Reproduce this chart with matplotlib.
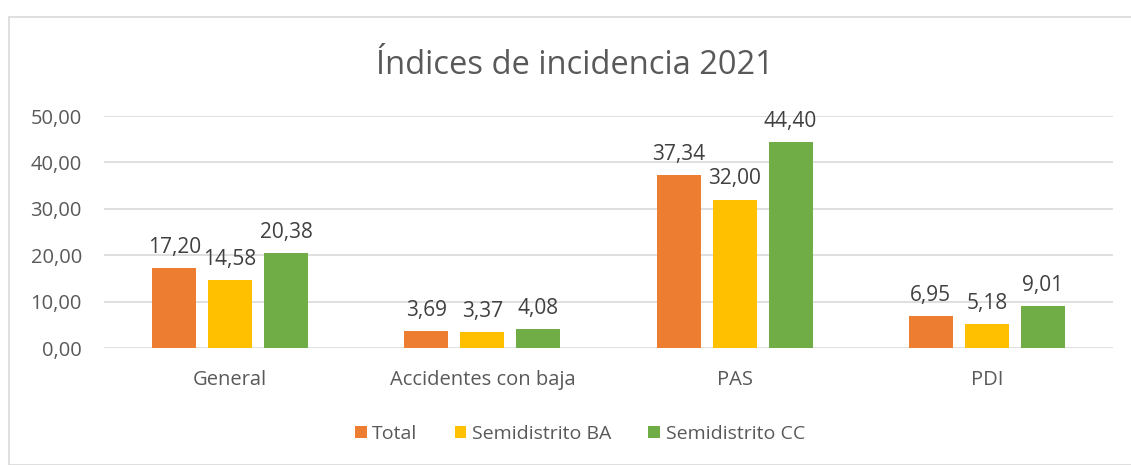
import matplotlib.pyplot as plt
from matplotlib.patches import Rectangle
import numpy as np

categories = ["General", "Accidentes con baja", "PAS", "PDI"]
series_names = ["Total", "Semidistrito BA", "Semidistrito CC"]
total = [17.20, 3.69, 37.34, 6.95]
semi_ba = [14.58, 3.37, 32.00, 5.18]
semi_cc = [20.38, 4.08, 44.40, 9.01]
colors = ["#ED7D31", "#FFC000", "#70AD47"]

plt.rcParams['font.family'] = ['Open Sans', 'DejaVu Sans']
gray = "#595959"

fig = plt.figure(figsize=(11.31, 4.65), dpi=100)
W, H = 1131, 465
fig.patches.append(Rectangle((9 / W, 0), 1.2, 1 - 17 / H, transform=fig.transFigure,
                             fill=False, edgecolor="#D9D9D9", linewidth=1.2))

ax = fig.add_axes([104 / W, 1 - 348 / H, (1113 - 104) / W, (348 - 116) / H])
x = np.arange(len(categories))
width = 0.175
pitch = 0.222
for i, (vals, name) in enumerate(zip([total, semi_ba, semi_cc], series_names)):
    bars = ax.bar(x + (i - 1) * pitch, vals, width, color=colors[i], label=name, zorder=3)
    for b, v in zip(bars, vals):
        ax.text(b.get_x() + b.get_width() / 2, v + 2.2, f"{v:.2f}".replace(".", ","),
                ha="center", va="bottom", fontsize=15, color="#404040")

ax.set_xlim(-0.5, len(categories) - 0.5)
ax.set_ylim(0, 50)
ax.set_yticks(np.arange(0, 51, 10))
ax.set_yticklabels([f"{t:.2f}".replace(".", ",") for t in np.arange(0, 51, 10)])
ax.set_xticks(x)
ax.set_xticklabels(categories)
ax.tick_params(axis="both", length=0, labelsize=14.5, colors=gray)
ax.tick_params(axis="y", pad=16)
ax.tick_params(axis="x", pad=16)
ax.grid(axis="y", color="#D9D9D9", linewidth=1.2, zorder=0)
for s in ax.spines.values():
    s.set_visible(False)

fig.text(575 / W, 1 - 66 / H, "Índices de incidencia 2021", ha="center", va="center",
         fontsize=23.5, color=gray)

handles, labels = ax.get_legend_handles_labels()
fig.legend(handles, labels, loc="center", bbox_to_anchor=(580 / W, 1 - 434 / H), ncol=3,
           frameon=False, fontsize=14, labelcolor=gray, handlelength=0.6, handleheight=0.6,
           handletextpad=0.3, columnspacing=1.9)

fig.savefig("out.png", dpi=100)
